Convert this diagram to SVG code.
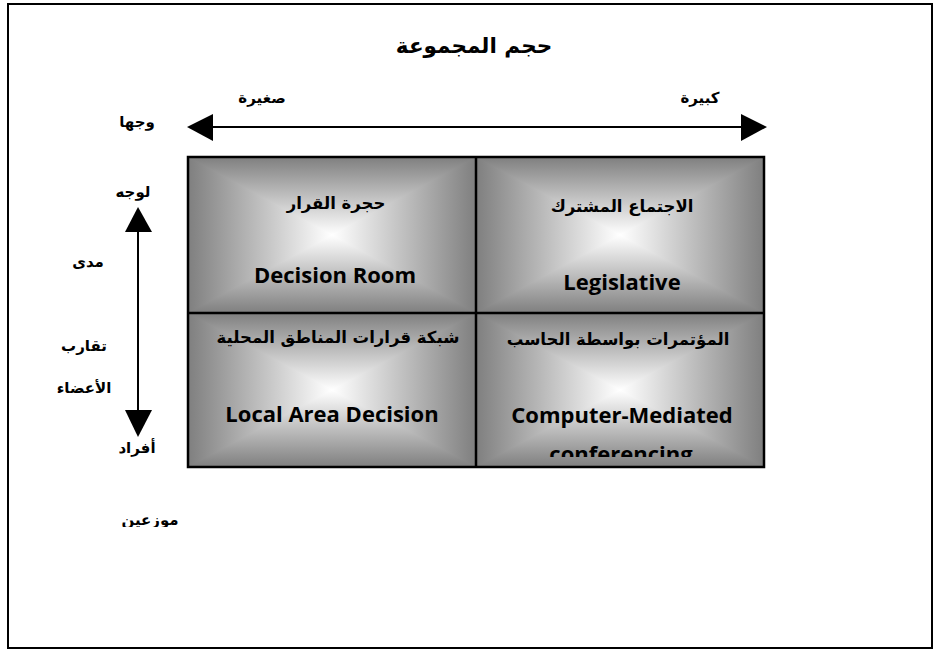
<svg xmlns="http://www.w3.org/2000/svg" width="933" height="649" viewBox="0 0 933 649">
<style>
.ar{font-family:"DejaVu Sans",sans-serif;fill:#000;text-anchor:middle}
.lbl{font-size:15px;font-weight:bold}
.cellar{font-size:16.5px;font-weight:bold}
.en{font-family:"Open Sans","Liberation Sans",sans-serif;font-weight:bold;font-size:22px;fill:#000;text-anchor:middle}
.grid{fill:none;stroke:#000;stroke-width:2.5}
.conn{stroke:#000;stroke-width:2}
.head{fill:#000}
.bg{fill:url(#gH)}
.tt{fill:url(#gT)}
.tb{fill:url(#gB)}
</style>
<defs>
<linearGradient id="gT" x1="0" y1="0" x2="0" y2="1"><stop offset="0" stop-color="#7f7f7f"/><stop offset="1" stop-color="#ffffff"/></linearGradient>
<linearGradient id="gB" x1="0" y1="0" x2="0" y2="1"><stop offset="0" stop-color="#ffffff"/><stop offset="1" stop-color="#7f7f7f"/></linearGradient>
<linearGradient id="gH" x1="0" y1="0" x2="1" y2="0"><stop offset="0" stop-color="#7f7f7f"/><stop offset="0.5" stop-color="#ffffff"/><stop offset="1" stop-color="#7f7f7f"/></linearGradient>
<clipPath id="c4clip"><rect x="476" y="313" width="288" height="144"/></clipPath>
<clipPath id="mzclip"><rect x="100" y="490" width="100" height="37"/></clipPath>
</defs>
<rect x="0" y="0" width="933" height="649" fill="#fff"/>
<rect x="8" y="4" width="924" height="644" fill="none" stroke="#000" stroke-width="2"/>

<g id="title"><text class="ar" x="474" y="53" font-size="21.5" font-weight="bold">حجم المجموعة</text></g>

<g id="connectors">
<line class="conn" x1="212" y1="127" x2="742" y2="127"/>
<polygon class="head" points="187,127 213,114 213,141"/>
<polygon class="head" points="767,127 741,114 741,141"/>
<line class="conn" x1="138" y1="231" x2="138" y2="411"/>
<polygon class="head" points="138,207 125,232 152,232"/>
<polygon class="head" points="138,437 125,410 152,410"/>
</g>

<g id="labels">
<text class="ar lbl" x="137" y="127" font-size="17">وجها</text>
<text class="ar lbl" x="262" y="103" font-size="16">صغيرة</text>
<text class="ar lbl" x="700" y="103">كبيرة</text>
<text class="ar lbl" x="133" y="197">لوجه</text>
<text class="ar lbl" x="88" y="267">مدى</text>
<text class="ar lbl" x="84" y="351" font-size="14">تقارب</text>
<text class="ar lbl" x="84" y="393" font-size="17">الأعضاء</text>
<text class="ar lbl" x="137" y="453">أفراد</text>
<text class="ar lbl" x="150" y="525" font-size="13.5" clip-path="url(#mzclip)">موزعين</text>
</g>

<g id="cell-decision-room">
<rect class="bg" x="188" y="157" width="288" height="156"/>
<polygon class="tt" points="188,157 476,157 332,235"/>
<polygon class="tb" points="188,313 476,313 332,235"/>
<text class="ar cellar" x="336" y="209">حجرة القرار</text>
<text class="en" x="335" y="283">Decision Room</text>
</g>

<g id="cell-legislative">
<rect class="bg" x="476" y="157" width="288" height="156"/>
<polygon class="tt" points="476,157 764,157 620,235"/>
<polygon class="tb" points="476,313 764,313 620,235"/>
<text class="ar cellar" x="622" y="212">الاجتماع المشترك</text>
<text class="en" x="622" y="290">Legislative</text>
</g>

<g id="cell-local-area">
<rect class="bg" x="188" y="313" width="288" height="154"/>
<polygon class="tt" points="188,313 476,313 332,390"/>
<polygon class="tb" points="188,467 476,467 332,390"/>
<text class="ar cellar" x="338" y="343">شبكة قرارات المناطق المحلية</text>
<text class="en" x="332" y="422">Local Area Decision</text>
</g>

<g id="cell-computer-mediated">
<rect class="bg" x="476" y="313" width="288" height="154"/>
<polygon class="tt" points="476,313 764,313 620,390"/>
<polygon class="tb" points="476,467 764,467 620,390"/>
<text class="ar cellar" x="618" y="345">المؤتمرات بواسطة الحاسب</text>
<text class="en" x="622" y="423">Computer-Mediated</text>
<text class="en" x="621" y="462" clip-path="url(#c4clip)">conferencing</text>
</g>

<g id="grid">
<rect class="grid" x="188" y="157" width="576" height="310"/>
<line class="grid" x1="476" y1="157" x2="476" y2="467"/>
<line class="grid" x1="188" y1="313" x2="764" y2="313"/>
</g>
</svg>
